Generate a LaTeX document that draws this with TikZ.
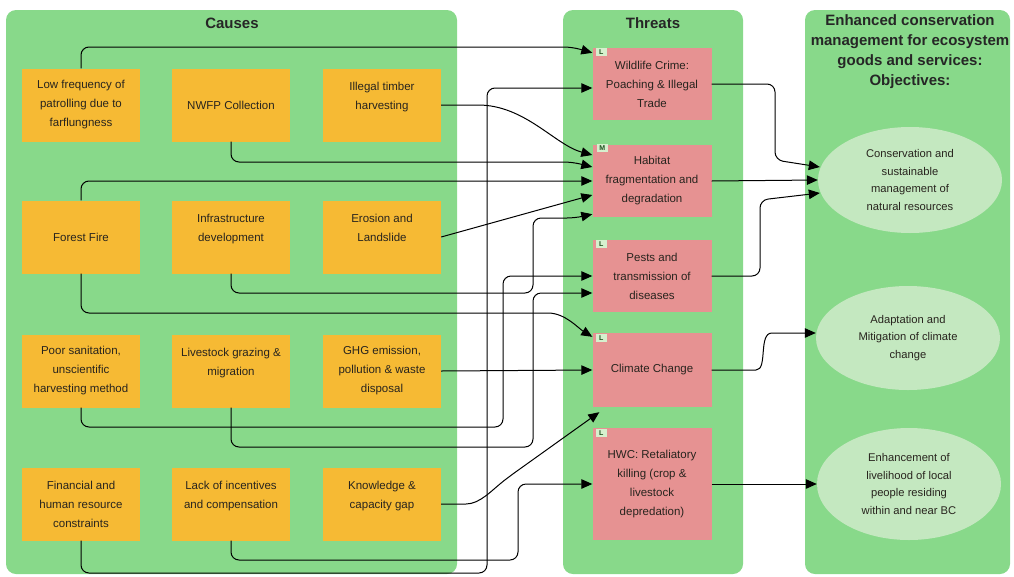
\documentclass[tikz,border=0pt]{standalone}
\usepackage{fontspec}
\setmainfont{Liberation Sans}
\usetikzlibrary{arrows.meta,calc,shapes.geometric}

\definecolor{panel}{RGB}{136,217,138}
\definecolor{cause}{RGB}{246,186,52}
\definecolor{threat}{RGB}{230,146,146}
\definecolor{objfill}{RGB}{196,232,192}
\definecolor{ink}{RGB}{40,36,30}
\definecolor{badgefill}{RGB}{214,240,206}
\definecolor{badgeink}{RGB}{30,80,30}

\tikzset{
  panelbox/.style={fill=panel, rounded corners=10pt},
  causebox/.style={fill=cause, minimum width=118pt, minimum height=73pt, align=center,
    text=ink, font=\fontsize{11.5}{19}\selectfont, inner sep=2pt},
  threatbox/.style={fill=threat, minimum width=119pt, align=center,
    text=ink, font=\fontsize{11.5}{19}\selectfont, inner sep=2pt},
  objell/.style={ellipse, fill=objfill, minimum width=184pt, align=center,
    text=ink, font=\fontsize{11.2}{17.5}\selectfont, inner sep=0pt},
  heading/.style={font=\bfseries\fontsize{15}{20}\selectfont, text=black!85, align=center},
  badge/.style={fill=badgefill, font=\bfseries\fontsize{7}{7}\selectfont, text=badgeink,
    inner sep=1pt, minimum width=11pt, minimum height=8pt},
  conn/.style={draw=black, line width=1pt, rounded corners=8pt,
    -{Triangle[length=11pt,width=9.5pt]}},
}

\begin{document}
\begin{tikzpicture}[x=1pt,y=-1pt]
\useasboundingbox (0,0) rectangle (1014,576);
\fill[white] (0,0) rectangle (1014,576);

% column panels
\path[panelbox] (6,10) rectangle (457,574);
\path[panelbox] (563,10) rectangle (743,574);
\path[panelbox] (805,10) rectangle (1010,574);

% headings
\node[heading] (hcause) at (232,23) {Causes};
\node[heading] (hthreat) at (653,23) {Threats};
\node[heading] (hobj) at (910,52) {Enhanced conservation\\management for ecosystem\\goods and services:\\Objectives:};

% causes
\node[causebox] (c11) at (81,105) {Low frequency of\\patrolling due to\\farflungness};
\node[causebox] (c12) at (231,105) {NWFP Collection};
\node[causebox] (c13) at (382,105) {Illegal timber\\harvesting\\~};
\node[causebox] (c21) at (81,237) {Forest Fire};
\node[causebox] (c22) at (231,237) {Infrastructure\\development\\~};
\node[causebox] (c23) at (382,237) {Erosion and\\Landslide\\~};
\node[causebox] (c31) at (81,371) {Poor sanitation,\\unscientific\\harvesting method};
\node[causebox] (c32) at (231,371) {Livestock grazing \&\\migration\\~};
\node[causebox] (c33) at (382,371) {GHG emission,\\pollution \& waste\\disposal};
\node[causebox] (c41) at (81,504) {Financial and\\human resource\\constraints};
\node[causebox] (c42) at (231,504) {Lack of incentives\\and compensation\\~};
\node[causebox] (c43) at (382,504) {Knowledge \&\\capacity gap\\~};

% threats
\node[threatbox, minimum height=72pt] (tw) at (652,84) {Wildlife Crime:\\Poaching \& Illegal\\Trade};
\node[threatbox, minimum height=72pt] (th) at (652,181) {Habitat\\fragmentation and\\degradation};
\node[threatbox, minimum height=72pt] (tp) at (652,276) {Pests and\\transmission of\\diseases};
\node[threatbox, minimum height=74pt] (tc) at (652,370) {Climate Change};
\node[threatbox, minimum height=112pt] (thw) at (652,484) {HWC: Retaliatory\\killing (crop \&\\livestock\\depredation)};

% priority badges
\node[badge] (bw) at ($(tw.north west)+(9,4)$) {L};
\node[badge] (bh) at ($(th.north west)+(10,3)$) {M};
\node[badge] (bp) at ($(tp.north west)+(9,4)$) {L};
\node[badge] (bc) at ($(tc.north west)+(9,5)$) {L};
\node[badge] (bhw) at ($(thw.north west)+(9,5)$) {L};

% objectives
\node[objell, minimum height=106pt] (e1) at (910,180) {Conservation and\\sustainable\\management of\\natural resources};
\node[objell, minimum height=104pt] (e2) at (908,338) {Adaptation and\\Mitigation of climate\\change};
\node[objell, minimum height=112pt] (e3) at (909,484) {Enhancement of\\livelihood of local\\people residing\\within and near BC};

% causes -> threats
\draw[conn] (c11.north) |- (572,47) -- ($(tw.north west)+(0,5)$);
\draw[conn] (c12.south) |- (572,162) -- ($(th.west)+(0,-14)$);
\draw[conn] (c13.east) -- (470,105) .. controls (525,105) and (555,145) .. ($(th.west)+(0,-26)$);
\draw[conn] (c21.north) |- (th.west);
\draw[conn] (c23.east) -- ($(th.west)+(0,14)$);
\draw[conn] (c22.south) |- (533,293) |- (575,218) -- ($(th.south west)+(0,-3)$);
\draw[conn] (c31.south) |- (503,427) |- (tp.west);
\draw[conn] (c32.south) |- (533,447) |- ($(tp.west)+(0,17)$);
\draw[conn] (c21.south) |- (540,313) .. controls (565,313) and (578,328) .. ($(tc.north west)+(0,4)$);
\draw[conn] (c33.east) -- (tc.west);
\draw[conn] (c43.east) -- (458,504) .. controls (480,504) and (492,490) .. (510,476) -- ($(tc.south west)+(7,5)$);
\draw[conn] (c41.south) |- (487,573) |- ($(tw.west)+(0,4)$);
\draw[conn] (c42.south) |- (518,560) |- (thw.west);

% threats -> objectives
\draw[conn] (tw.east) -- (775,84) -- (775,160) -- ($(e1.west)+(2,-13)$);
\draw[conn] (th.east) -- (e1.west);
\draw[conn] (tp.east) -- (760,276) -- (760,200) -- ($(e1.west)+(2,13)$);
\draw[conn] (tc.east) -- (748,370) .. controls (768,370) and (758,333) .. (780,333) -- ($(e2.west)+(0,-5)$);
\draw[conn] (thw.east) -- (e3.west);
\end{tikzpicture}
\end{document}
